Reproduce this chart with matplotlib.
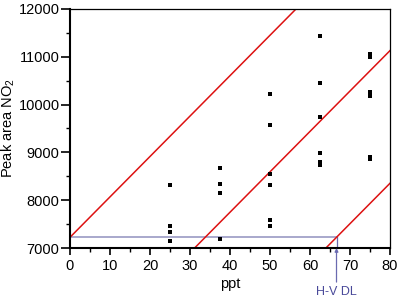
import matplotlib
matplotlib.use("Agg")
import matplotlib.pyplot as plt
import numpy as np

plt.rcParams['font.family'] = ['Liberation Sans', 'DejaVu Sans']
plt.rcParams['mathtext.fontset'] = 'custom'
plt.rcParams['mathtext.rm'] = 'Liberation Sans'
plt.rcParams['mathtext.default'] = 'regular'

# data points
x_pts = [25, 25, 25, 25,
         37.5, 37.5, 37.5, 37.5,
         50, 50, 50, 50, 50, 50,
         62.5, 62.5, 62.5, 62.5, 62.5, 62.5,
         75, 75, 75, 75, 75, 75]
y_pts = [8310, 7450, 7340, 7150,
         8680, 8340, 8145, 7190,
         10230, 9570, 8540, 8310, 7590, 7450,
         11440, 10455, 9735, 8995, 8805, 8730,
         11050, 11000, 10270, 10170, 8910, 8860]

# regression line and bounds (intercept, slope)
slope = 84.5
intercepts = [7224, 4368, 1594]
line_x = [0, 80]

hv_level = 7224
hv_dl = (hv_level - intercepts[2]) / slope

fig = plt.figure(figsize=(4, 3), dpi=100)
ax = fig.add_axes([0.175, 0.1733, 0.80, 0.797])

for b in intercepts:
    ax.plot(line_x, [b + slope * v for v in line_x], color='#dd1111', lw=1.1, zorder=2)

ax.plot([0, hv_dl], [hv_level, hv_level], color='#9a9ac4', lw=1.2, zorder=1)
ax.plot([hv_dl, hv_dl], [7000, hv_level], color='#6a6ab0', lw=0.9, zorder=1)
ax.annotate('H-V DL', xy=(hv_dl, 7000), xytext=(hv_dl, 6075), textcoords='data',
            ha='center', va='center', color='#4a4a9a', fontsize=9,
            annotation_clip=False,
            arrowprops=dict(arrowstyle='-|>', color='#6a6ab0', lw=0.9,
                            shrinkA=1, shrinkB=0, mutation_scale=5))

ax.scatter(x_pts, y_pts, marker='s', s=9, color='black', zorder=3, linewidths=0)

ax.set_xlim(0, 80)
ax.set_ylim(7000, 12000)
ax.set_xticks(np.arange(0, 81, 10))
ax.set_xticks(np.arange(5, 80, 10), minor=True)
ax.set_yticks(np.arange(7000, 12001, 1000))
ax.set_yticks(np.arange(7500, 12000, 1000), minor=True)
ax.tick_params(axis='y', which='major', direction='out', length=6.5, width=1.2,
               labelsize=10.5, pad=1)
ax.tick_params(axis='x', which='major', direction='out', length=5, width=1.2,
               labelsize=10.5, pad=3)
ax.tick_params(axis='both', which='minor', direction='out', length=3, width=1.0)

ax.spines['left'].set_linewidth(1.5)
ax.spines['bottom'].set_linewidth(1.5)
ax.spines['top'].set_linewidth(0.9)
ax.spines['right'].set_linewidth(0.9)

ax.set_xlabel('ppt', fontsize=10.5, labelpad=3)
ax.set_ylabel('Peak area NO$_2$', fontsize=10.5, labelpad=1)

fig.savefig('out.png', dpi=100)
